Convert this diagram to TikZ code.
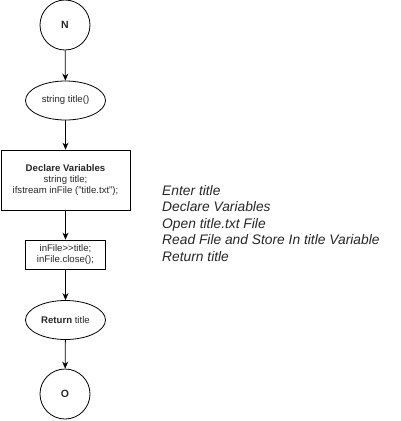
\documentclass[tikz,border=0pt]{standalone}
\usepackage{fontspec}
\setmainfont{Liberation Sans}[Ligatures=NoCommon]
\usetikzlibrary{shapes.geometric,arrows.meta}
\begin{document}
\begin{tikzpicture}[x=1pt,y=-1pt,
  every node/.style={font=\fontsize{9.6}{11}\selectfont, text=black!85},
  term/.style={draw, circle, minimum size=50pt, inner sep=0pt, line width=0.8pt, font=\fontsize{10.5}{12}\selectfont\bfseries},
  oval/.style={draw, ellipse, minimum width=80pt, minimum height=39pt, inner sep=0pt, line width=0.8pt},
  procbox/.style={draw, rectangle, inner sep=0pt, line width=0.8pt, align=center},
  flow/.style={-{Stealth[length=7pt,width=6pt]}, line width=0.8pt}]
\useasboundingbox (0,0) rectangle (401,421);
\node[term] (n) at (65,25) {N};
\node[oval] (e1) at (65.5,100.5) {string title()};
\node[procbox, minimum width=129pt, minimum height=60pt] (b1) at (65.5,180) {\textbf{Declare Variables}\\string title;\\ifstream inFile ("title.txt");};
\node[procbox, minimum width=80pt, minimum height=29pt] (b2) at (65.5,254.5) {inFile{>}{>}title;\\inFile.close();};
\node[oval] (e2) at (65.5,320) {\textbf{Return} title};
\node[term] (o) at (65,394) {O};
\draw[flow] (n) -- (e1);
\draw[flow] (e1) -- (b1);
\draw[flow] (b1) -- (b2);
\draw[flow] (b2) -- (e2);
\draw[flow] (e2) -- (o);
\node[anchor=north west, align=left, inner sep=0pt, font=\fontsize{13.8}{16.5}\selectfont\itshape] (notes) at (162,185) {Enter title\\Declare Variables\\Open title.txt File\\Read File and Store In title Variable\\Return title};
\end{tikzpicture}
\end{document}
